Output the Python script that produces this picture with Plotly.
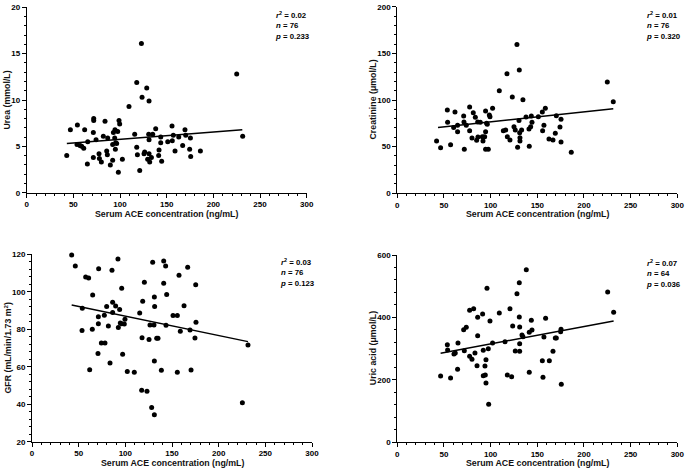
import plotly.graph_objects as go

# ---------------- Data ----------------
urea_x = [42.9, 46.8, 54.3, 53.9, 57.1, 58.9, 61.1, 62.1, 65.0, 65.4, 71.8, 71.8, 71.4, 71.4, 74.3,
          77.5, 77.9, 80.0, 82.1, 83.9, 85.7, 86.4, 86.8, 89.6, 92.1, 92.1, 92.9, 94.3, 94.6, 95.4,
          95.0, 96.4, 97.5, 98.2, 98.9, 99.6, 102.5, 109.6, 115.7, 117.9, 117.9, 118.6, 121.1, 122.9,
          123.6, 125.7, 126.4, 128.6, 129.6, 131.1, 130.7, 131.1, 131.1, 131.8, 133.6, 135.0, 138.2,
          141.4, 141.8, 143.6, 143.6, 144.6, 151.1, 155.7, 156.0, 157.1, 158.9, 162.9, 167.1, 169.6,
          170.4, 174.6, 175.4, 175.7, 186.1, 225.0, 231.4]
urea_y = [4.0, 6.8, 7.3, 5.2, 5.1, 5.0, 4.8, 6.8, 3.1, 5.5, 8.0, 7.8, 6.5, 3.8, 5.7,
          4.2, 3.7, 3.3, 6.1, 7.7, 4.5, 4.1, 5.9, 3.0, 3.5, 5.2, 6.5, 5.9, 6.8, 5.4,
          4.7, 5.3, 6.6, 2.2, 7.8, 7.4, 3.6, 9.3, 6.3, 11.9, 4.9, 4.1, 2.4, 16.1,
          10.3, 4.2, 4.4, 11.3, 3.6, 9.9, 6.3, 5.7, 4.2, 3.3, 3.8, 6.3, 6.9,
          4.0, 4.6, 6.0, 5.4, 3.4, 5.5, 7.2, 5.6, 6.2, 4.5, 6.0, 5.1, 6.8,
          6.2, 4.7, 5.9, 3.9, 4.5, 12.8, 6.1]
urea_fit_x = [43, 231]
urea_fit_y = [5.3, 6.8]

creat_x = [42.1, 46.4, 53.6, 53.9, 57.1, 60.4, 61.8, 64.6, 64.6, 71.1, 71.4, 71.8, 73.9, 77.5, 77.5,
           80.0, 81.4, 83.6, 85.0, 86.1, 86.4, 88.9, 91.1, 91.8, 92.1, 93.6, 94.6, 94.6, 94.6, 95.7,
           96.4, 97.5, 98.6, 99.3, 102.1, 109.3, 113.6, 116.1, 117.5, 117.9, 120.7, 123.2, 125.0,
           126.4, 128.2, 128.9, 130.7, 130.4, 131.1, 131.4, 131.4, 133.2, 134.6, 137.9, 141.1, 141.4,
           142.9, 143.6, 144.3, 151.1, 155.4, 155.7, 157.1, 158.6, 162.5, 166.8, 169.3, 170.4, 174.3,
           175.4, 175.4, 186.4, 225.0, 231.4]
creat_y = [56.1, 48.9, 89.3, 76.1, 52.1, 70.4, 87.1, 72.9, 66.1, 82.9, 76.4, 47.1, 72.9, 92.5, 67.1,
           59.3, 86.4, 81.4, 56.8, 76.4, 60.4, 76.1, 60.7, 56.1, 60.0, 60.7, 66.1, 88.2, 47.1, 75.0,
           73.9, 47.1, 83.9, 82.1, 91.1, 110.0, 67.1, 67.9, 128.2, 60.7, 57.1, 103.2, 71.4,
           67.9, 159.6, 49.3, 132.1, 77.9, 65.0, 59.6, 56.1, 67.9, 100.4, 81.8, 68.9, 50.4,
           71.4, 82.9, 76.1, 82.1, 87.1, 67.1, 72.9, 91.1, 58.2, 57.1, 64.3, 83.2, 71.1,
           79.3, 55.0, 43.9, 119.3, 98.2]
creat_fit_x = [43.6, 231.4]
creat_fit_y = [70.4, 90.7]

gfr_x = [42.5, 46.4, 53.9, 53.6, 57.5, 60.7, 61.8, 65.0, 64.6, 71.4, 71.1, 71.1, 70.7, 74.3, 78.2,
         77.5, 80.0, 81.8, 83.6, 85.7, 86.4, 86.4, 89.6, 92.1, 92.5, 93.9, 94.6, 96.1, 96.1, 97.1,
         98.9, 99.6, 102.1, 109.6, 115.4, 117.5, 117.9, 118.6, 120.4, 123.2, 125.4, 126.4, 128.2,
         129.3, 130.7, 131.1, 131.1, 131.1, 131.4, 133.6, 135.0, 138.6, 141.1, 141.1, 143.2, 143.6,
         144.3, 151.1, 155.7, 155.7, 157.5, 158.9, 162.9, 166.8, 169.3, 170.4, 174.6, 175.4, 175.7,
         225.4, 231.4]
gfr_y = [119.6, 113.8, 91.2, 79.4, 107.9, 107.4, 58.4, 98.3, 80.0, 112.3, 86.7, 83.0, 67.0, 72.7, 72.7,
         87.5, 92.2, 81.7, 62.0, 111.5, 94.4, 88.9, 92.4, 117.5, 81.0, 90.6, 83.3, 101.9, 83.0, 66.6,
         82.8, 85.3, 57.4, 57.0, 88.7, 47.4, 75.5, 94.9, 105.1, 46.9, 74.6, 82.3, 38.3,
         115.7, 82.3, 34.4, 63.1, 97.2, 92.2, 75.2, 75.2, 58.1, 116.4, 104.5, 113.8, 82.1,
         98.5, 87.4, 87.4, 57.0, 108.8, 78.9, 92.6, 113.1, 79.6, 58.3, 75.3, 103.8, 83.7,
         40.8, 71.6]
gfr_fit_x = [42.5, 231.4]
gfr_fit_y = [93.0, 73.4]

uric_x = [46.4, 53.6, 53.9, 57.1, 60.7, 62.1, 65.0, 64.6, 71.1, 71.8, 73.9, 77.5, 77.5, 80.0, 81.8,
          83.2, 86.1, 86.1, 85.4, 91.4, 92.1, 92.1, 93.9, 94.3, 95.0, 95.0, 96.1, 97.5, 97.9, 99.3,
          102.1, 109.3, 115.4, 117.9, 120.7, 122.5, 123.6, 126.4, 128.2, 130.7, 130.7, 131.1, 131.1,
          131.1, 133.6, 134.6, 138.2, 141.4, 141.4, 143.6, 144.3, 155.4, 156.1, 157.1, 158.9, 162.9,
          166.8, 169.3, 170.4, 175.0, 175.4, 175.7, 225.4, 231.8]
uric_y = [212.4, 312.8, 295.7, 206.0, 282.9, 286.1, 318.1, 233.8, 360.8, 293.6, 368.3, 422.8, 275.4, 265.8, 428.1,
          286.1, 400.3, 341.6, 245.6, 411.0, 294.6, 213.5, 244.5, 215.7, 264.8, 190.0, 493.2, 300.0, 121.7, 388.6,
          318.1, 414.2, 322.4, 215.7, 428.1, 210.3, 372.6, 292.5, 476.1, 511.4, 401.4, 369.4, 316.0,
          291.4, 343.8, 338.4, 553.0, 352.3, 224.2, 390.7, 359.8, 261.6, 208.2, 337.4, 397.1, 261.6,
          291.4, 334.2, 334.2, 354.4, 361.9, 185.8, 481.5, 416.4]
uric_fit_x = [46.4, 231.8]
uric_fit_y = [285.0, 388.6]

x_ticks = [0, 50, 100, 150, 200, 250, 300]
x_title = "Serum ACE concentration (ng/mL)"

panels = [
    dict(x=urea_x, y=urea_y, fx=urea_fit_x, fy=urea_fit_y, yr=[0, 20], ydt=5, ymin=1,
         ytitle="Urea (mmol/L)", stats=("0.02", "76", "0.233")),
    dict(x=creat_x, y=creat_y, fx=creat_fit_x, fy=creat_fit_y, yr=[0, 200], ydt=50, ymin=10,
         ytitle="Creatinine (μmol/L)", stats=("0.01", "76", "0.320")),
    dict(x=gfr_x, y=gfr_y, fx=gfr_fit_x, fy=gfr_fit_y, yr=[20, 120], ydt=20, ymin=4,
         ytitle="GFR (mL/min/1.73 m<sup>2</sup>)", stats=("0.03", "76", "0.123")),
    dict(x=uric_x, y=uric_y, fx=uric_fit_x, fy=uric_fit_y, yr=[0, 600], ydt=200, ymin=40,
         ytitle="Uric acid (μmol/L)", stats=("0.07", "64", "0.036")),
]

W, H = 688, 471
# plot areas in pixels: (left, right, top, bottom)
boxes = [(26.7, 306.7, 7.3, 192.7), (397.3, 677.3, 6.7, 193.3),
         (32.0, 312.0, 254.3, 441.7), (397.3, 677.3, 255.0, 442.3)]
# axis-title positions in pixels
xtitle_y = [213.5, 213.5, 462.5, 462.5]
ytitle_x = [6.5, 372.5, 7.5, 372.5]

FONT = "Arial, Liberation Sans, sans-serif"
tickfont = dict(family=FONT, size=8, color="black", weight="bold")
titlefont = dict(family=FONT, size=8.8, color="#111111", weight="bold")

fig = go.Figure()
annotations = []
layout = dict(width=W, height=H, margin=dict(l=0, r=0, t=0, b=0, pad=0, autoexpand=False),
              paper_bgcolor="white", plot_bgcolor="white", showlegend=False)

for i, p in enumerate(panels):
    n = "" if i == 0 else str(i + 1)
    xa, ya = "x" + n, "y" + n
    L, R, T, B = boxes[i]
    fig.add_trace(go.Scatter(x=p["x"], y=p["y"], mode="markers", xaxis=xa, yaxis=ya,
                             marker=dict(color="black", size=5), cliponaxis=False))
    fig.add_trace(go.Scatter(x=p["fx"], y=p["fy"], mode="lines", xaxis=xa, yaxis=ya,
                             line=dict(color="black", width=1.5)))
    layout["xaxis" + n] = dict(
        domain=[L / W, R / W], anchor=ya, range=[0, 300], tickvals=x_ticks,
        showline=True, linecolor="black", linewidth=1, ticks="outside", ticklen=4,
        tickcolor="black", tickwidth=1, showgrid=False, zeroline=False, automargin=False,
        tickfont=tickfont, ticklabelstandoff=0,
        minor=dict(dtick=10, ticks="outside", ticklen=2, tickcolor="black", showgrid=False))
    layout["yaxis" + n] = dict(
        domain=[1 - B / H, 1 - T / H], anchor=xa, range=p["yr"], dtick=p["ydt"], tick0=0,
        showline=True, linecolor="black", linewidth=1, ticks="outside", ticklen=4,
        tickcolor="black", tickwidth=1, showgrid=False, zeroline=False, automargin=False,
        tickfont=tickfont, ticklabelstandoff=0,
        minor=dict(dtick=p["ymin"], ticks="outside", ticklen=2, tickcolor="black", showgrid=False))
    # axis titles
    annotations.append(dict(xref="paper", yref="paper", x=(L + R) / 2 / W, y=1 - xtitle_y[i] / H,
                            xanchor="center", yanchor="middle", showarrow=False,
                            text=x_title, font=titlefont))
    annotations.append(dict(xref="paper", yref="paper", x=ytitle_x[i] / W, y=1 - (T + B) / 2 / H,
                            xanchor="center", yanchor="middle", showarrow=False, textangle=-90,
                            text=p["ytitle"], font=titlefont))
    r2, nn, pv = p["stats"]
    annotations.append(dict(
        xref=xa + " domain", yref=ya + " domain", x=0.88, y=0.995,
        xanchor="left", yanchor="top", align="left", showarrow=False,
        text=f"<i>r</i><sup>2</sup> = {r2}<br><i>n</i> = {nn}<br><i>p</i> = {pv}",
        font=dict(family=FONT, size=7.8, color="black", weight="bold")))

layout["annotations"] = annotations
fig.update_layout(**layout)
fig.write_html("out.html", config={"displayModeBar": False},
               post_script="document.body.style.margin='0';document.body.style.overflow='hidden';")
